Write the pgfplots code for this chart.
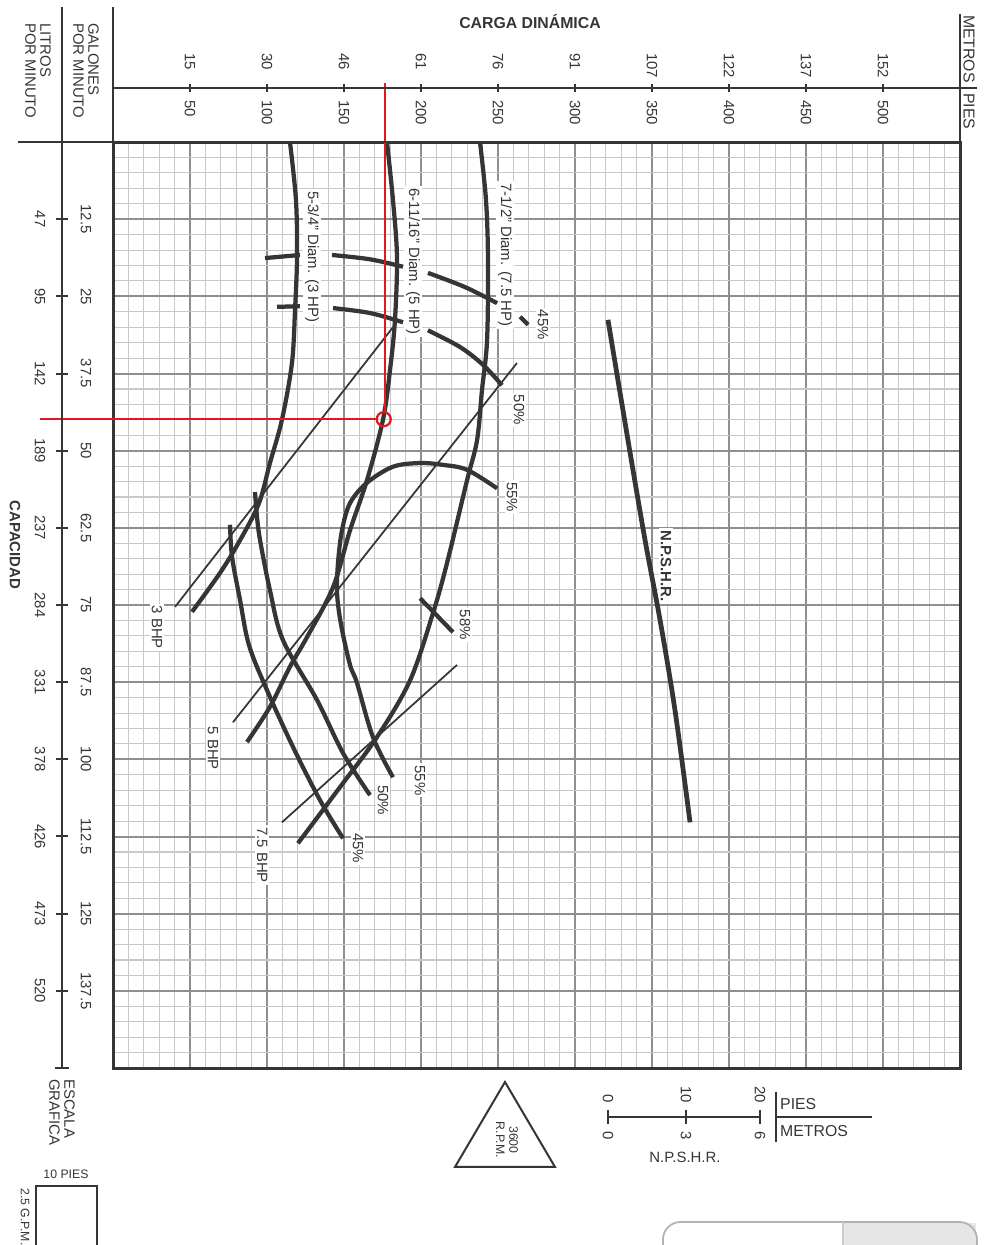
\documentclass[border=0pt]{standalone}
\usepackage{fontspec}
\setmainfont{Liberation Sans}
\usepackage{pgfplots}
\pgfplotsset{compat=1.18}
\definecolor{ink}{HTML}{353535}
\definecolor{gmaj}{HTML}{8E8E8E}
\definecolor{gmin}{HTML}{C8C8C8}
\definecolor{redl}{HTML}{E3171E}

\tikzset{
  curve/.style={ink, line width=0.85mm, smooth, tension=0.55},
  bhp/.style={ink, line width=0.35mm},
  lbl/.style={fill=white, inner sep=1.2pt, text=ink, rotate=-90},
}

\begin{document}
\begin{tikzpicture}[font=\fontsize{8.5}{10}\selectfont]
\useasboundingbox (0,0) rectangle (196.8mm,-249mm);
\begin{axis}[
  at={(22.6mm,-28.4mm)}, anchor=north west,
  scale only axis, width=169.4mm, height=185.2mm,
  xmin=0, xmax=550, ymin=0, ymax=150, y dir=reverse,
  xtick={0,50,...,550}, ytick={0,12.5,...,150},
  minor x tick num=4, minor y tick num=4,
  xticklabels={}, yticklabels={},
  major tick length=0pt, minor tick length=0pt,
  grid=both,
  major grid style={gmaj, line width=0.4mm},
  minor grid style={gmin, line width=0.22mm},
  axis line style={ink, line width=0.6mm},
  clip=false,
]
% labels first, so the curves pass over their white boxes
\node[lbl] at (axis cs:129.2,18.6) {5-3/4" Diam. (3 HP)};
\node[lbl] at (axis cs:194.8,19.4) {6-11/16" Diam. (5 HP)};
\node[lbl] at (axis cs:254.5,18.3) {7-1/2" Diam. (7.5 HP)};
\node[lbl] at (axis cs:279.2,29.6) {45\%};
\node[lbl] at (axis cs:263.6,43.4) {50\%};
\node[lbl] at (axis cs:259.1,57.5) {55\%};
\node[lbl] at (axis cs:228.6,78.2) {58\%};
\node[lbl] at (axis cs:199.4,103.4) {55\%};
\node[lbl] at (axis cs:175.3,106.6) {50\%};
\node[lbl] at (axis cs:159.1,114.4) {45\%};
\node[lbl] at (axis cs:28.6,78.6) {3 BHP};
\node[lbl] at (axis cs:64.9,98.2) {5 BHP};
\node[lbl] at (axis cs:96.8,115.5) {7.5 BHP};
\node[lbl, font=\fontsize{8.5}{10}\selectfont\bfseries] at (axis cs:359.1,68.7) {N.P.S.H.R.};

% impeller diameters
\addplot[curve] coordinates {(114.9,0) (118.8,9.4) (119.5,18.6) (118.2,27.2) (116.2,35.8)
  (109.7,45.0) (101.9,52.0) (94.8,58.5) (82.5,64.5) (69.5,69.8) (51.3,76.1)};
\addplot[curve] coordinates {(177.9,0) (181.8,9.4) (184.4,18.6) (183.1,28.8) (179.9,36.9)
  (175.3,45.0) (164.9,54.8) (153.9,62.9) (142.9,72.1) (126.0,80.2) (114.9,85.0)
  (101.9,91.5) (87.0,97.2)};
\addplot[curve] coordinates {(238.3,0) (242.2,9.4) (243.5,19.1) (242.9,32.1) (239.6,40.2)
  (236.4,48.3) (229.9,54.8) (216.9,68.2) (207.8,76.3) (192.9,87.2) (171.4,96.4)
  (147.4,104.5) (120.1,113.6)};

% efficiency, 45%
\addplot[curve] coordinates {(98.7,18.8) (121.4,18.3)};
\addplot[curve] coordinates {(142.2,18.3) (166.9,19.0) (188.3,20.2)};
\addplot[curve] coordinates {(204.5,21.2) (228.6,23.5) (249.4,26.1)};
\addplot[curve] coordinates {(264.3,28.3) (269.5,29.6)};
\addplot[curve] coordinates {(76.0,62.0) (77.3,67.2) (82.5,74.2) (88.3,81.5) (100.0,88.8)
  (116.9,98.0) (134.4,106.6) (149.4,112.8)};
% efficiency, 50%
\addplot[curve] coordinates {(106.5,26.7) (121.4,26.6)};
\addplot[curve] coordinates {(142.9,26.9) (166.9,27.7) (188.3,29.2)};
\addplot[curve] coordinates {(204.5,30.5) (225.3,33.2) (240.3,36.1) (252.6,39.4)};
\addplot[curve] coordinates {(92.2,56.7) (93.5,60.7) (95.5,64.5) (101.9,72.6) (110.4,80.7)
  (132.5,90.4) (149.4,99.0) (166.9,105.8)};
% efficiency, 55% and 58%
\addplot[curve] coordinates {(249.4,56.1) (229.9,53.1) (214.3,52.3) (199.4,52.0) (181.8,52.6)
  (164.9,55.2) (153.9,58.5) (148.7,62.9) (146.1,68.2) (145.5,73.1) (148.1,78.2)
  (153.9,84.7) (158.4,87.6) (168.8,96.4) (181.8,102.9)};
\addplot[curve] coordinates {(199.4,73.9) (220.8,79.4)};

% brake horsepower
\addplot[bhp] coordinates {(40.3,75.3) (181.8,30.0)};
\addplot[bhp] coordinates {(77.9,94.0) (262.3,35.8)};
\addplot[bhp] coordinates {(109.7,110.2) (223.4,84.7)};

% NPSHR
\addplot[curve, line width=0.95mm] coordinates {(321.4,28.8) (334.4,48.3) (345.5,64.5)
  (355.2,77.4) (364.9,92.0) (374.7,110.2)};

% operating point
\addplot[redl, line width=0.45mm] coordinates {(176.6,-9.5) (176.6,43.8)};
\addplot[redl, line width=0.45mm] coordinates {(-47.4,44.9) (171.3,44.9)};
\draw[redl, line width=0.45mm] (axis cs:175.8,44.9) circle[radius=1.4mm];
\end{axis}

\begin{scope}[x=0.2mm, y=-0.2mm, ink, line width=0.5mm]
  \draw (62,7) -- (62,1068);
  \draw (113,7) -- (113,142);
  \draw (18,142) -- (960,142);
  \draw (960,14) -- (960,142);
  \draw (113,88) -- (977,88);
  \foreach \f/\m in {50/15,100/30,150/46,200/61,250/76,300/91,350/107,400/122,450/137,500/152}{
    \pgfmathsetmacro{\xx}{113+1.54*\f}
    \draw[line width=0.4mm] (\xx,84) -- (\xx,92);
    \node[rotate=-90, anchor=west, inner sep=0pt] at (\xx,52) {\m};
    \node[rotate=-90, anchor=west, inner sep=0pt] at (\xx,99) {\f};
  }
  \foreach \g/\l in {12.5/47,25/95,37.5/142,50/189,62.5/237,75/284,87.5/331,100/378,112.5/426,125/473,137.5/520}{
    \pgfmathsetmacro{\yy}{142+6.1733*\g}
    \draw[line width=0.4mm] (56,\yy) -- (68,\yy);
    \node[rotate=-90] at (86,\yy) {\g};
    \node[rotate=-90] at (40,\yy) {\l};
  }
  \draw (55,1068) -- (69,1068);

  \node[font=\fontsize{9}{10}\selectfont\bfseries] at (530,22) {CARGA DINÁMICA};
  \node[rotate=-90, anchor=west, align=left, inner sep=0pt, font=\fontsize{8.5}{8.5}\selectfont] at (86,22) {GALONES\\POR MINUTO};
  \node[rotate=-90, anchor=west, align=left, inner sep=0pt, font=\fontsize{8.5}{8.5}\selectfont] at (38,22) {LITROS\\POR MINUTO};
  \node[rotate=-90, anchor=east, inner sep=0pt, font=\fontsize{9}{10}\selectfont] at (969,84) {METROS};
  \node[rotate=-90, anchor=west, inner sep=0pt, font=\fontsize{9}{10}\selectfont] at (969,92) {PIES};
  \node[rotate=-90, font=\fontsize{8.5}{10}\selectfont\bfseries] at (15,545) {CAPACIDAD};

  \node[rotate=-90, anchor=west, align=left, inner sep=0pt, font=\fontsize{8.5}{8.5}\selectfont] at (62,1078) {ESCALA\\GRAFICA};
  \node[font=\fontsize{7}{8}\selectfont] at (66,1174) {10 PIES};
  \draw[line width=0.4mm] (36,1186) rectangle (97,1252);
  \node[rotate=-90, anchor=west, inner sep=0pt, font=\fontsize{7}{8}\selectfont] at (25,1187) {2.5 G.P.M.};

  \draw[line width=0.4mm] (505,1082) -- (455,1167) -- (555,1167) -- cycle;
  \node[rotate=-90, align=center, font=\fontsize{7}{7.5}\selectfont] at (507,1140) {3600\\R.P.M.};

  \draw[line width=0.35mm] (608,1117) -- (760,1117);
  \foreach \x/\a/\b in {608/0/0,686/10/3,760/20/6}{
    \draw[line width=0.35mm] (\x,1110) -- (\x,1124);
    \node[rotate=-90, anchor=east, inner sep=0pt] at (\x,1104) {\a};
    \node[rotate=-90, anchor=west, inner sep=0pt] at (\x,1130) {\b};
  }
  \node at (685,1157) {N.P.S.H.R.};
  \draw[line width=0.35mm] (776,1092) -- (776,1142);
  \draw[line width=0.35mm] (776,1117) -- (872,1117);
  \node[anchor=west, inner sep=0pt, font=\fontsize{9}{10}\selectfont] at (779,1104) {PIES};
  \node[anchor=west, inner sep=0pt, font=\fontsize{9}{10}\selectfont] at (779,1131) {METROS};

  \fill[black!10] (843,1223) rectangle (976,1260);
  \draw[black!30, line width=0.35mm, rounded corners=10] (663,1260) -- (663,1222) -- (977,1222) -- (977,1260);
  \draw[black!20, line width=0.3mm] (843,1222) -- (843,1260);
\end{scope}
\end{tikzpicture}
\end{document}
